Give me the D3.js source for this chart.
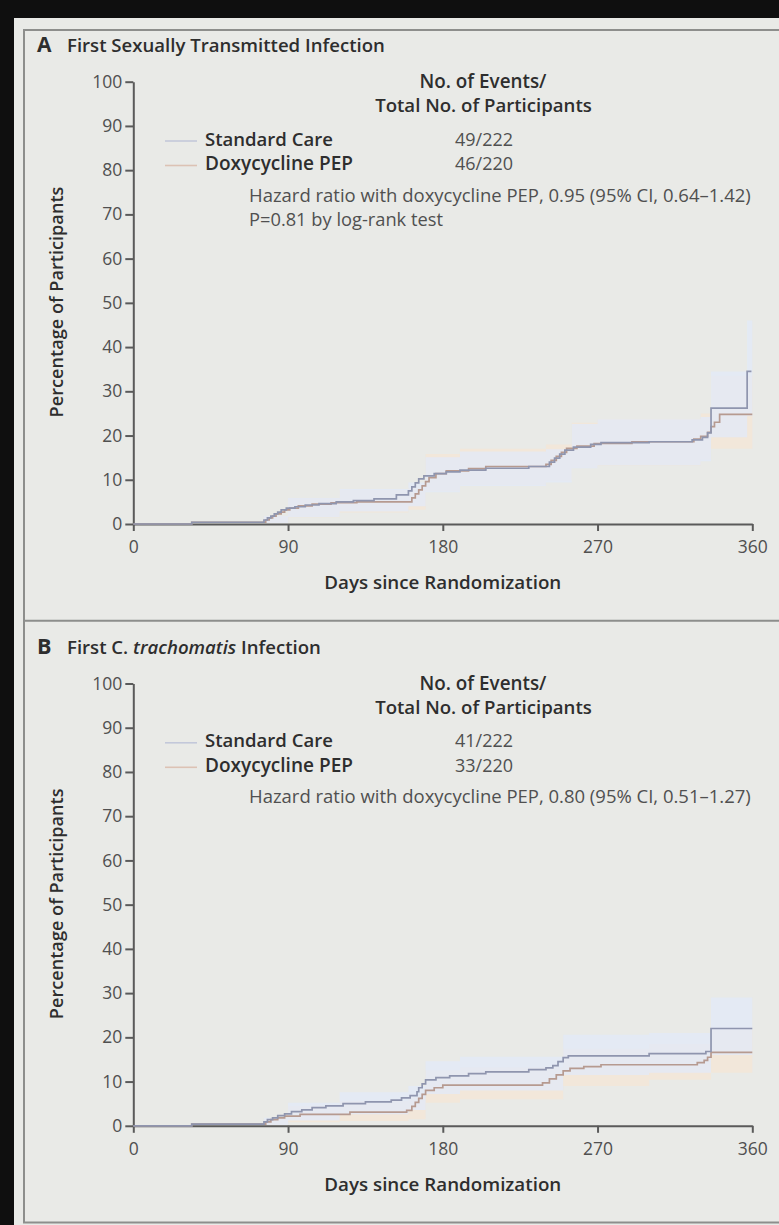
<!DOCTYPE html>
<html><head><meta charset="utf-8">
<script src="https://cdn.jsdelivr.net/npm/d3@7"></script>
<style>
html,body{margin:0;padding:0;background:#0f0f0f;}
svg{display:block;}
text{font-family:"Open Sans",Lato,sans-serif;}
</style></head><body>
<svg id="chart" width="779" height="1225"></svg>
<script>
// ---------- data ----------
const yTicks = [0,10,20,30,40,50,60,70,80,90,100];
const xTicks = [0,90,180,270,360];
const seriesNames = ["Standard Care","Doxycycline PEP"];
const panelLetters = ["A","B"];
const eventsA = ["49/222","46/220"];
const eventsB = ["41/222","33/220"];
const statsA = ["Hazard ratio with doxycycline PEP, 0.95 (95% CI, 0.64\u20131.42)","P=0.81 by log-rank test"];
const statsB = ["Hazard ratio with doxycycline PEP, 0.80 (95% CI, 0.51\u20131.27)"];

// Panel A – cumulative incidence (%) step points
const aStdDays = [0,34,76,78,80,82,84,86,89,94,100,108,118,128,140,153,160,162,164,166,169,175,182,190,205,230,242,245,248,251,256,266,272,300,325,331,334,336,357,359.5];
const aStdPct  = [0,0.4,0.9,1.4,1.8,2.3,2.7,3.2,3.6,3.9,4.3,4.6,5.0,5.3,5.7,6.6,7.5,8.4,9.3,10.2,10.9,11.4,11.8,12.2,12.6,13.0,14.0,14.9,15.8,16.7,17.4,18.0,18.4,18.6,19.0,19.6,20.6,26.2,34.5,34.5];
const aDoxDays = [0,34,77,79,81,83,86,88,91,96,104,115,130,162,164,166,168,170,172,176,182,195,205,240,243,246,249,252,258,268,290,326,330,334,336,338,341,360];
const aDoxPct  = [0,0.4,0.9,1.4,1.8,2.3,2.7,3.2,3.6,4.1,4.5,4.8,5.0,5.9,6.8,7.7,8.6,9.6,10.5,11.4,12.0,12.5,13.0,13.5,14.4,15.3,16.2,17.1,17.6,18.2,18.6,19.2,19.8,20.7,22.0,23.0,24.8,24.8];
// Panel A – 95% CI bands
const aBandDays = [76,90,120,160,170,190,240,255,270,330,336,357,360];
const aStdLo = [0.2,1.6,2.8,4.0,7.2,8.6,9.4,12.6,13.3,14.2,19.6,24.5,24.5];
const aStdHi = [1.8,5.9,7.9,9.4,15.1,16.4,16.9,22.6,23.7,24.2,34.5,46.0,46.0];
const aDoxLo = [0.2,1.5,2.6,3.2,7.4,8.8,9.8,12.7,13.2,14.6,17.0,17.0,17.0];
const aDoxHi = [1.8,5.8,7.7,8.2,15.8,17.0,18.0,22.9,23.7,25.0,33.5,33.5,33.5];

// Panel B
const bStdDays = [0,34,76,78,81,84,88,92,98,104,112,122,135,150,156,161,165,166,168,170,176,184,195,205,230,240,244,247,250,253,300,333,336,360];
const bStdPct  = [0,0.4,0.9,1.4,1.8,2.3,2.7,3.2,3.6,4.1,4.5,5.0,5.4,5.8,6.3,6.8,7.7,8.6,9.5,10.4,10.9,11.3,11.8,12.2,12.7,13.1,13.6,14.5,15.4,15.8,16.3,16.8,22.0,22.0];
const bDoxDays = [0,34,77,80,84,88,97,126,159,162,164,166,168,170,175,180,238,242,246,250,254,262,272,328,332,334,336,360];
const bDoxPct  = [0,0.4,0.9,1.4,1.8,2.2,2.6,3.1,3.5,4.4,5.3,6.2,7.1,8.0,8.6,9.2,9.7,10.6,11.5,12.4,13.0,13.4,13.8,14.3,14.8,15.5,16.6,16.6];
const bBandDays = [76,90,120,160,170,190,250,300,336,360];
const bStdLo = [0.2,1.2,2.6,3.6,7.2,8.0,11.5,12.0,16.0,16.0];
const bStdHi = [1.8,5.2,7.6,9.0,14.6,15.6,20.6,21.0,29.0,29.0];
const bDoxLo = [0.1,0.8,1.1,1.5,5.2,6.0,9.0,10.4,12.0,12.0];
const bDoxHi = [1.6,4.5,5.6,6.4,12.5,13.2,17.4,18.5,21.8,21.8];

// ---------- drawing ----------
const svg = d3.select("#chart");
const C = {
  bg:"#e9eae7", frame:"#8d8e8c", axis:"#5a5a5a", text:"#2e2e2e", tick:"#505050",
  std:"#8f95ae", dox:"#b69a90", stdLeg:"#c3c8da", doxLeg:"#dcc2b4",
  stdBand:"rgba(226,234,248,0.75)", doxBand:"rgba(244,230,214,0.75)"
};
const BOLD = 600;

// set font size so that the text spans the target width
function fit(sel, target){
  const n = sel.node();
  const fs = parseFloat(sel.attr("font-size"));
  const w = n.getComputedTextLength();
  if (w>0) sel.attr("font-size", (fs*target/w).toFixed(2));
  return sel;
}

svg.append("rect").attr("x",14).attr("y",18).attr("width",779-14).attr("height",1225-18).attr("fill",C.bg);
// frame lines
svg.append("line").attr("x1",24).attr("x2",24).attr("y1",30).attr("y2",1223).attr("stroke",C.frame).attr("stroke-width",2);
[30,620.7,1222.5].forEach(yy=>svg.append("line").attr("x1",23).attr("x2",779).attr("y1",yy).attr("y2",yy).attr("stroke",C.frame).attr("stroke-width",2));

const x = d3.scaleLinear().domain([0,360]).range([133.3,752.3]);
const zip = (a,b)=>a.map((d,i)=>[d,b[i]]);

const panels = [
  {off:0, letter:panelLetters[0], titleParts:[["First Sexually Transmitted Infection","normal"]], titleW:318,
   std:zip(aStdDays,aStdPct), dox:zip(aDoxDays,aDoxPct),
   band:{days:aBandDays, sLo:aStdLo, sHi:aStdHi, dLo:aDoxLo, dHi:aDoxHi},
   events:eventsA, stats:statsA, statW:[502,194]},
  {off:601.8, letter:panelLetters[1], titleParts:[["First C. ","normal"],["trachomatis","italic"],[" Infection","normal"]], titleW:260,
   std:zip(bStdDays,bStdPct), dox:zip(bDoxDays,bDoxPct),
   band:{days:bBandDays, sLo:bStdLo, sHi:bStdHi, dLo:bDoxLo, dHi:bDoxHi},
   events:eventsB, stats:statsB, statW:[502]}
];

let titleFS = null;
panels.forEach((p,pi)=>{
  const o = p.off;
  const g = svg.append("g");
  const y = d3.scaleLinear().domain([0,100]).range([524+o,81.7+o]);

  // title
  fit(g.append("text").attr("x",37).attr("y",52+o).attr("font-size",18).attr("font-weight",700).attr("fill",C.text).text(p.letter),14.5);
  const t = g.append("text").attr("x",67).attr("y",52+o).attr("font-size",17).attr("font-weight",BOLD).attr("fill",C.text);
  p.titleParts.forEach(([s,st])=>t.append("tspan").attr("font-style",st).text(s));
  if (pi===0){ fit(t,p.titleW); titleFS = t.attr("font-size"); } else t.attr("font-size",titleFS);

  // bands
  const bd = p.band.days.map((d,i)=>({d, sLo:p.band.sLo[i], sHi:p.band.sHi[i], dLo:p.band.dLo[i], dHi:p.band.dHi[i]}));
  g.append("path").datum(bd).attr("fill",C.doxBand)
    .attr("d",d3.area().x(d=>x(d.d)).y0(d=>y(d.dLo)).y1(d=>y(d.dHi)).curve(d3.curveStepAfter));
  g.append("path").datum(bd).attr("fill",C.stdBand)
    .attr("d",d3.area().x(d=>x(d.d)).y0(d=>y(d.sLo)).y1(d=>y(d.sHi)).curve(d3.curveStepAfter));

  // axes
  const ay = g.append("g").attr("transform",`translate(${x(0)},0)`)
    .call(d3.axisLeft(y).tickValues(yTicks).tickSize(8).tickSizeOuter(0).tickPadding(3));
  const ax = g.append("g").attr("transform",`translate(0,${y(0)})`)
    .call(d3.axisBottom(x).tickValues(xTicks).tickSize(7).tickSizeOuter(0).tickPadding(10));
  [ay,ax].forEach(a=>{
    a.select(".domain").attr("stroke",C.axis).attr("stroke-width",2);
    a.selectAll(".tick line").attr("stroke",C.axis).attr("stroke-width",2);
    a.selectAll(".tick text").attr("fill",C.tick).attr("font-size",17.5).attr("font-family","Open Sans");
  });

  // curves
  const line = d3.line().x(d=>x(d[0])).y(d=>y(d[1])).curve(d3.curveStepAfter);
  g.append("path").datum(p.dox).attr("fill","none").attr("stroke",C.dox).attr("stroke-width",1.7).attr("d",line);
  g.append("path").datum(p.std).attr("fill","none").attr("stroke",C.std).attr("stroke-width",1.7).attr("d",line);

  // axis titles
  fit(g.append("text").attr("x",x(180)).attr("y",589+o).attr("text-anchor","middle").attr("font-size",17).attr("font-weight",BOLD).attr("fill",C.text).text("Days since Randomization"),237);
  fit(g.append("text").attr("transform",`translate(63,${302+o}) rotate(-90)`).attr("text-anchor","middle").attr("font-size",16.5).attr("font-weight",BOLD).attr("fill",C.text).text("Percentage of Participants"),231);

  // legend
  fit(g.append("text").attr("x",483).attr("y",88+o).attr("text-anchor","middle").attr("font-size",17).attr("font-weight",BOLD).attr("fill",C.text).text("No. of Events/"),127);
  fit(g.append("text").attr("x",483.5).attr("y",112+o).attr("text-anchor","middle").attr("font-size",17).attr("font-weight",BOLD).attr("fill",C.text).text("Total No. of Participants"),217);
  const legCols = [C.stdLeg, C.doxLeg];
  const nameW = [128,148];
  seriesNames.forEach((nm,i)=>{
    const ly = 139.5 + i*24.5 + o;
    g.append("line").attr("x1",165).attr("x2",197).attr("y1",ly+1.5).attr("y2",ly+1.5).attr("stroke",legCols[i]).attr("stroke-width",1.6);
    fit(g.append("text").attr("x",205).attr("y",ly+6).attr("font-size",17).attr("font-weight",BOLD).attr("fill",C.text).text(nm),nameW[i]);
    fit(g.append("text").attr("x",484).attr("y",ly+6).attr("text-anchor","middle").attr("font-size",17).attr("fill",C.tick).text(p.events[i]),58);
  });
  p.stats.forEach((s,i)=>{
    fit(g.append("text").attr("x",249).attr("y",201.5+i*24.5+o).attr("font-size",16).attr("fill",C.tick).text(s),p.statW[i]);
  });
});
</script>
</body></html>
